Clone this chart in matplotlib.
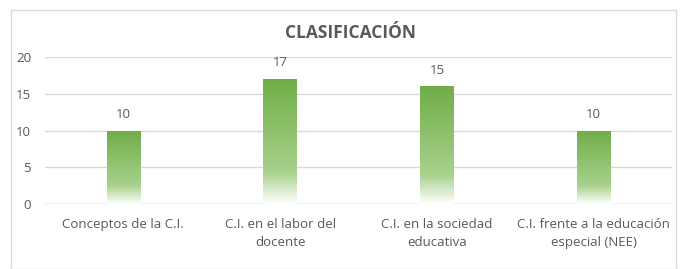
import numpy as np
import matplotlib.pyplot as plt
from matplotlib.colors import LinearSegmentedColormap
from matplotlib.patches import Rectangle

categories = ["Conceptos de la C.I.", "C.I. en el labor del\ndocente",
              "C.I. en la sociedad\neducativa", "C.I. frente a la educación\nespecial (NEE)"]
heights = [10, 17, 16, 10]
labels = ["10", "17", "15", "10"]

plt.rcParams['font.family'] = ['Open Sans', 'DejaVu Sans']
grey = '#595959'

fig = plt.figure(figsize=(7, 2.69), dpi=100)
fig.patches.append(Rectangle((11/700, 0.0), 665/700, 1 - 10/269, transform=fig.transFigure,
                             fill=False, edgecolor='#d9d9d9', lw=1))
ax = fig.add_axes([45/700, 1 - 204/269, 627/700, 147/269])

cmap = LinearSegmentedColormap.from_list(
    'g', [(0.0, (1, 1, 1)), (0.25, (0.66, 0.82, 0.55)), (1.0, (0.44, 0.68, 0.28))])
grad = np.linspace(0, 1, 256).reshape(-1, 1)

x = np.arange(len(categories))
bars = ax.bar(x, heights, width=0.215, facecolor='none', edgecolor='none', zorder=3)
for b, lab in zip(bars, labels):
    x0, w, h = b.get_x(), b.get_width(), b.get_height()
    im = ax.imshow(grad, cmap=cmap, origin='lower', aspect='auto',
                   extent=[x0, x0 + w, 0, h], zorder=3)
    im.set_clip_path(b)
    ax.text(x0 + w / 2, h + 1.3, lab, ha='center', va='bottom', fontsize=9.5, color=grey)

ax.set_xlim(-0.5, 3.5)
ax.set_ylim(0, 20)
ax.set_yticks([0, 5, 10, 15, 20])
ax.set_xticks(x)
ax.set_xticklabels(categories, fontsize=9.5, color=grey, linespacing=1.55)
ax.tick_params(axis='y', labelsize=9.5, labelcolor=grey, length=0, pad=10)
ax.tick_params(axis='x', length=0, pad=10)
ax.grid(axis='y', color='#d9d9d9', lw=1, zorder=0)
ax.set_axisbelow(True)
for s in ax.spines.values():
    s.set_visible(False)
ax.axhline(0, color='#d0d0d0', lw=1, zorder=1)

fig.text(0.5, 1 - 33/269, "CLASIFICACIÓN", ha='center', va='center',
         fontsize=12.5, fontweight='bold', color=grey)

fig.savefig("out.png", dpi=100)
